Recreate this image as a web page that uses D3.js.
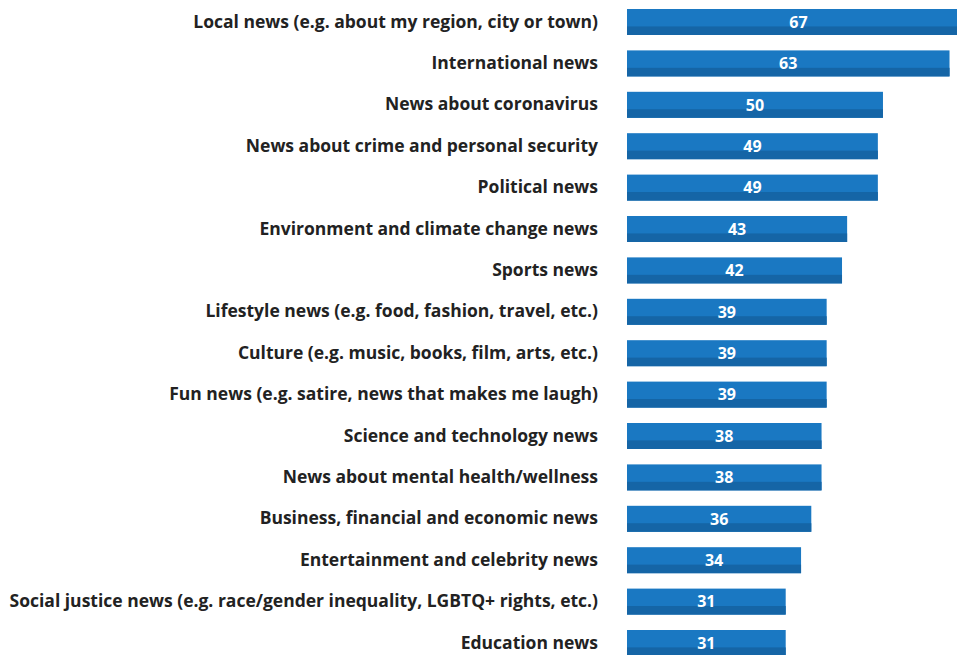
<!DOCTYPE html>
<html>
<head>
<meta charset="utf-8">
<script src="https://cdn.jsdelivr.net/npm/d3@7"></script>
<style>
  html, body { margin: 0; padding: 0; background: #fff; }
  svg { display: block; }
</style>
</head>
<body>
<svg id="chart" width="957" height="655"></svg>
<script>
const categories = [
  "Local news (e.g. about my region, city or town)",
  "International news",
  "News about coronavirus",
  "News about crime and personal security",
  "Political news",
  "Environment and climate change news",
  "Sports news",
  "Lifestyle news (e.g. food, fashion, travel, etc.)",
  "Culture (e.g. music, books, film, arts, etc.)",
  "Fun news (e.g. satire, news that makes me laugh)",
  "Science and technology news",
  "News about mental health/wellness",
  "Business, financial and economic news",
  "Entertainment and celebrity news",
  "Social justice news (e.g. race/gender inequality, LGBTQ+ rights, etc.)",
  "Education news"
];
const values = [67, 63, 50, 49, 49, 43, 42, 39, 39, 39, 38, 38, 36, 34, 31, 31];

const svg = d3.select("#chart");

const x = d3.scaleLinear().domain([0, 67]).range([627, 970]);
const y = d3.scaleBand().domain(categories).range([9, 656]).paddingInner(0.372).paddingOuter(0);

const data = categories.map((c, i) => ({ cat: c, val: values[i] }));
const bw = y.bandwidth();
const shade = bw * 0.33;

const g = svg.append("g");

// main bar
g.selectAll("rect.bar").data(data).join("rect")
  .attr("class", "bar")
  .attr("x", x(0))
  .attr("y", d => y(d.cat))
  .attr("width", d => x(d.val) - x(0))
  .attr("height", bw)
  .attr("fill", "#1a78c2");

// darker lower strip of each bar
g.selectAll("rect.shade").data(data).join("rect")
  .attr("class", "shade")
  .attr("x", x(0))
  .attr("y", d => y(d.cat) + bw - shade)
  .attr("width", d => x(d.val) - x(0))
  .attr("height", shade)
  .attr("fill", "#1565a6");

// value labels
g.selectAll("text.val").data(data).join("text")
  .attr("class", "val")
  .attr("x", d => (x(0) + x(d.val)) / 2)
  .attr("y", d => y(d.cat) + bw / 2)
  .attr("dy", "0.36em")
  .attr("text-anchor", "middle")
  .attr("fill", "#ffffff")
  .style("font-family", "'Open Sans', sans-serif")
  .style("font-weight", "700")
  .style("font-size", "16px")
  .text(d => d.val);

// category labels via a left axis
const axis = d3.axisLeft(y).tickSize(0).tickPadding(0);
const ax = svg.append("g").attr("transform", "translate(598,0)").call(axis);
ax.select(".domain").remove();
ax.selectAll("text")
  .attr("fill", "#222222")
  .style("font-family", "'Open Sans', sans-serif")
  .style("font-weight", "700")
  .style("font-size", "17.5px");
</script>
</body>
</html>
